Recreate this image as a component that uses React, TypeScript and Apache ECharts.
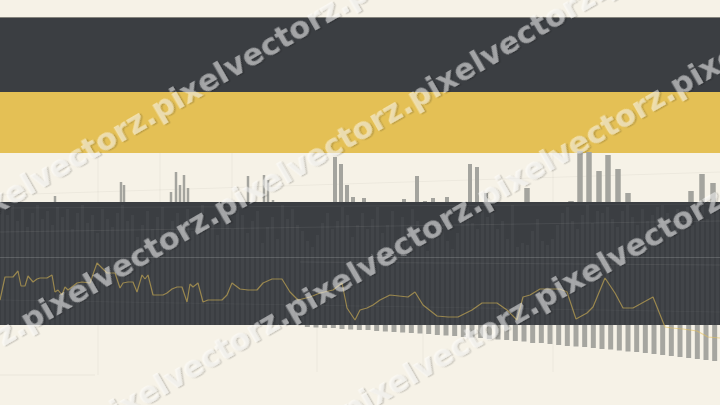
import React, { useEffect, useRef } from "react";
import * as echarts from "echarts";

// ---------- data ----------
// top volume-like bars (t = time index 0..144, h = value)
const thinT = [11.0, 24.2, 24.8, 34.2, 35.2, 36.0, 36.8, 37.6, 49.6, 52.8, 53.6, 54.6];
const thinH = [6, 20, 17, 10, 30, 17, 27, 14, 26, 27, 22, 2];
const midT = [67.0, 68.2, 69.4, 70.6, 72.8, 80.8, 83.4, 85.0, 86.6, 89.4, 94.0, 95.4, 97.2];
const midH = [45, 38, 17, 5, 4, 3, 26, 1, 4, 5, 38, 35, 9];
const wideT = [105.4, 114.2, 116.0, 117.8, 119.8, 121.6, 123.6, 125.6, 138.2, 140.4, 142.6];
const wideH = [14, 1, 51, 50, 31, 47, 33, 9, 11, 28, 19];

// faint stripes in the dark band (144 slots)
const stripes = [
  118, 110, 120, 104, 116, 98, 112, 120, 106, 114, 100, 118,
  108, 116, 96, 112, 120, 102, 110, 92, 116, 106, 98, 112,
  120, 104, 110, 88, 100, 114, 96, 108, 118, 90, 104, 112,
  100, 116, 94, 110, 120, 98, 106, 90, 112, 104, 96, 118,
  110, 92, 104, 114, 82, 98, 108, 86, 120, 106, 116, 100,
  94, 84, 78, 90, 102, 112, 96, 104, 118, 110, 88, 100,
  112, 96, 106, 118, 92, 100, 114, 84, 108, 98, 116, 104,
  80, 74, 90, 98, 106, 84, 76, 92, 110, 118, 102, 96,
  116, 108, 112, 96, 104, 86, 120, 78, 82, 80, 94, 106,
  84, 80, 86, 100, 112, 118, 104, 96, 110, 120, 102, 114,
  112, 118, 106, 98, 114, 120, 108, 100, 116, 104, 110, 118,
  120, 112, 104, 116, 108, 118, 100, 114, 120, 106, 112, 116,
];

// price line
const lineT = [
  0, 1, 2.6, 3.6, 4.2, 5, 5.6, 6.6, 7.4, 8, 9.4, 10.4, 11, 11.6, 12.4, 13, 13.6, 15.4, 16.4, 18,
  19.4, 20.4, 21.4, 23, 24, 24.6, 25.6, 26.6, 27.4, 28.4, 29, 29.6, 30.6, 32.6, 33.4, 34.4, 35.4,
  36.4, 37.4, 38, 38.6, 39.6, 40.6, 41.6, 44.4, 45.4, 46.4, 48, 49.6, 51.4, 52.6, 54.4, 56.4, 58,
  59.6, 62, 64, 66.6, 68.4, 69.4, 71, 72, 73.4, 74.6, 76, 78, 81.6, 83, 84.6, 87.4, 89.6, 91.6,
  94.4, 96.4, 99.4, 101.4, 103.4, 104.6, 106, 108, 112, 113.4, 115.2, 117.4, 118.6, 121, 123,
  124.6, 126.6, 130.6, 133, 134.4, 136.6, 139.4, 141.6, 144,
];
const lineV = [
  40, 63, 63, 69, 54, 54, 64, 58, 61, 62, 62, 65, 48, 50, 45, 53, 50, 57, 58, 57,
  77, 72, 67, 67, 52, 57, 58, 58, 48, 65, 61, 65, 45, 45, 47, 51, 53,
  53, 38, 56, 53, 57, 38, 40, 40, 45, 57, 51, 50, 50, 57, 61, 61, 48,
  40, 43, 47, 50, 57, 32, 20, 30, 32, 35, 40, 45, 43, 48, 35, 24, 23, 23,
  30, 37, 37, 30, 20, 43, 45, 51, 51, 48, 21, 27, 33, 62, 47,
  32, 32, 43, 13, 12, 11, 9, 3, 2,
];

// hanging bars (48 periods)
const downH = [
  2, 2.5, 3, 3, 4, 4.5, 5, 5, 6, 6.5, 7, 7.5, 8, 8.5, 9, 10, 10.5, 11, 12, 12.5,
  13, 14, 14.5, 15, 16, 16.5, 18, 18, 19, 20, 21, 21.5, 22, 23, 24, 24.5, 25.5, 26.5,
  27, 28, 29, 30, 31, 32, 33, 34, 35, 36,
];

const WATERMARK = "pixelvectorz.";

export default function App() {
  const ref = useRef<HTMLDivElement>(null);

  useEffect(() => {
    if (!ref.current) return;
    const chart = echarts.init(ref.current, undefined, { renderer: "svg" });

    const hiddenVal = (min: number, max: number, gridIndex: number, extra: any = {}) => ({
      type: "value",
      min,
      max,
      gridIndex,
      show: false,
      splitLine: { show: false },
      ...extra,
    });

    const grids = [
      { left: 0, right: 0, top: 150, height: 52 },
      { left: 0, right: 0, top: 150, height: 52 },
      { left: 0, right: 0, top: 150, height: 52 },
      { left: 0, right: 0, top: 202, height: 123 },
      { left: 0, right: 0, top: 250, height: 90 },
      { left: 303, right: 1, top: 325, height: 40 },
    ];

    const wm = (x0: number, y0: number) => ({
      type: "text",
      x: x0,
      y: y0,
      rotation: Math.PI / 6,
      z: 100,
      silent: true,
      style: {
        text: WATERMARK.repeat(6),
        fontFamily: "DejaVu Sans",
        fontWeight: "bold",
        fontSize: 30.7,
        fill: "rgba(255,255,255,0.5)",
        verticalAlign: "middle",
        align: "left",
        textShadowColor: "rgba(0,0,0,0.35)",
        textShadowOffsetX: 1.5,
        textShadowOffsetY: 1.5,
        textShadowBlur: 1,
      },
    });

    const faint = (x1: number, y1: number, x2: number, y2: number, color: string) => ({
      type: "line",
      z: 1,
      silent: true,
      shape: { x1, y1, x2, y2 },
      style: { stroke: color, lineWidth: 1 },
    });

    chart.setOption({
      animation: false,
      backgroundColor: "#f6f2e7",
      grid: grids,
      xAxis: [
        hiddenVal(0, 144, 0),
        hiddenVal(0, 144, 1),
        hiddenVal(0, 144, 2),
        { type: "category", gridIndex: 3, show: false, data: stripes.map((_, i) => i) },
        hiddenVal(0, 144, 4),
        { type: "category", gridIndex: 5, show: false, data: downH.map((_, i) => i) },
      ],
      yAxis: [
        hiddenVal(0, 52, 0),
        hiddenVal(0, 52, 1),
        hiddenVal(0, 52, 2),
        hiddenVal(0, 123, 3),
        hiddenVal(0, 90, 4),
        hiddenVal(0, 40, 5, { inverse: true }),
      ],
      graphic: [
        { type: "rect", z: 0, silent: true, shape: { x: 0, y: 17, width: 720, height: 1 }, style: { fill: "#85847d" } },
        { type: "rect", z: 0, silent: true, shape: { x: 0, y: 18, width: 720, height: 74 }, style: { fill: "#3b3e42" } },
        { type: "rect", z: 0, silent: true, shape: { x: 0, y: 92, width: 720, height: 61 }, style: { fill: "#e4c055" } },
        { type: "rect", z: 0, silent: true, shape: { x: 0, y: 202, width: 720, height: 123 }, style: { fill: "#3b3e42" } },
        faint(98, 153, 98, 202, "rgba(0,0,0,0.04)"),
        faint(160, 153, 160, 202, "rgba(0,0,0,0.04)"),
        faint(232, 153, 232, 202, "rgba(0,0,0,0.04)"),
        faint(553, 153, 553, 202, "rgba(0,0,0,0.04)"),
        faint(0, 195, 720, 172, "rgba(0,0,0,0.04)"),
        faint(98, 325, 98, 375, "rgba(0,0,0,0.04)"),
        faint(317, 325, 317, 372, "rgba(0,0,0,0.04)"),
        faint(423, 325, 423, 372, "rgba(0,0,0,0.04)"),
        faint(553, 325, 553, 372, "rgba(0,0,0,0.04)"),
        faint(0, 375, 95, 375, "rgba(0,0,0,0.05)"),
        faint(0, 208, 720, 204, "rgba(255,255,255,0.05)"),
        faint(0, 232, 720, 221, "rgba(255,255,255,0.07)"),
        faint(0, 257.5, 720, 257.5, "rgba(255,255,255,0.16)"),
        faint(300, 262, 720, 265, "rgba(255,255,255,0.07)"),
        faint(0, 300, 720, 312, "rgba(255,255,255,0.04)"),
        wm(-40, 223),
        wm(-170, 435),
        wm(-100, 535),
        wm(150, 525),
      ],
      series: [
        {
          type: "bar",
          xAxisIndex: 0,
          yAxisIndex: 0,
          barWidth: 2.5,
          itemStyle: { color: "#a4a49e" },
          data: thinT.map((t, i) => [t, thinH[i]]),
        },
        {
          type: "bar",
          xAxisIndex: 1,
          yAxisIndex: 1,
          barWidth: 4,
          itemStyle: { color: "#a4a49e" },
          data: midT.map((t, i) => [t, midH[i]]),
        },
        {
          type: "bar",
          xAxisIndex: 2,
          yAxisIndex: 2,
          barWidth: 5.5,
          itemStyle: { color: "#a4a49e" },
          data: wideT.map((t, i) => [t, wideH[i]]),
        },
        {
          type: "bar",
          xAxisIndex: 3,
          yAxisIndex: 3,
          barWidth: 3,
          itemStyle: { color: "rgba(255,255,255,0.04)" },
          data: stripes,
        },
        {
          type: "line",
          xAxisIndex: 4,
          yAxisIndex: 4,
          symbol: "none",
          lineStyle: { color: "#e4c055", opacity: 0.55, width: 1.2 },
          data: lineT.map((t, i) => [t, lineV[i]]),
        },
        {
          type: "bar",
          xAxisIndex: 5,
          yAxisIndex: 5,
          barWidth: 5,
          itemStyle: { color: "#a6a6a0" },
          data: downH,
        },
      ],
    });

    return () => chart.dispose();
  }, []);

  return <div ref={ref} style={{ width: 720, height: 405, position: "fixed", left: 0, top: 0 }} />;
}
